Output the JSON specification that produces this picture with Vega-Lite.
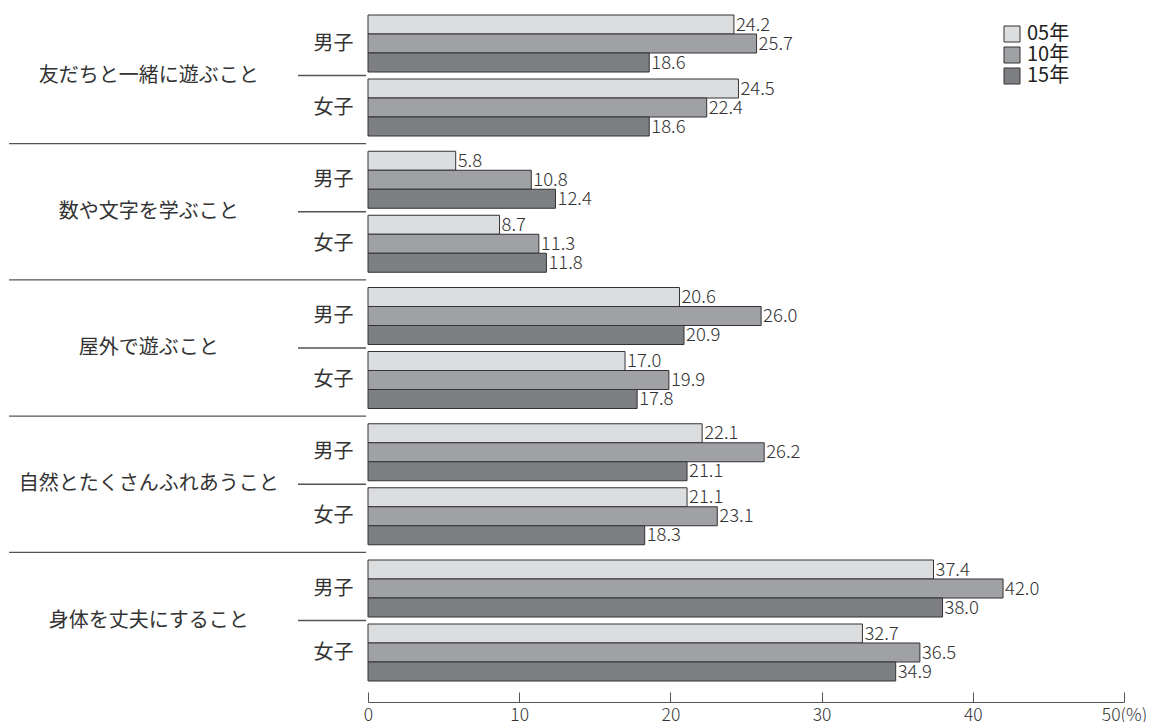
{
  "$schema": "https://vega.github.io/schema/vega-lite/v6.json",
  "padding": {"left": 8, "top": 14, "right": 0, "bottom": 0},
  "background": "white",
  "data": {
    "values": [
      {"cat": "友だちと一緒に遊ぶこと", "sex": "男子", "year": "05年", "value": 24.2},
      {"cat": "友だちと一緒に遊ぶこと", "sex": "男子", "year": "10年", "value": 25.7},
      {"cat": "友だちと一緒に遊ぶこと", "sex": "男子", "year": "15年", "value": 18.6},
      {"cat": "友だちと一緒に遊ぶこと", "sex": "女子", "year": "05年", "value": 24.5},
      {"cat": "友だちと一緒に遊ぶこと", "sex": "女子", "year": "10年", "value": 22.4},
      {"cat": "友だちと一緒に遊ぶこと", "sex": "女子", "year": "15年", "value": 18.6},
      {"cat": "数や文字を学ぶこと", "sex": "男子", "year": "05年", "value": 5.8},
      {"cat": "数や文字を学ぶこと", "sex": "男子", "year": "10年", "value": 10.8},
      {"cat": "数や文字を学ぶこと", "sex": "男子", "year": "15年", "value": 12.4},
      {"cat": "数や文字を学ぶこと", "sex": "女子", "year": "05年", "value": 8.7},
      {"cat": "数や文字を学ぶこと", "sex": "女子", "year": "10年", "value": 11.3},
      {"cat": "数や文字を学ぶこと", "sex": "女子", "year": "15年", "value": 11.8},
      {"cat": "屋外で遊ぶこと", "sex": "男子", "year": "05年", "value": 20.6},
      {"cat": "屋外で遊ぶこと", "sex": "男子", "year": "10年", "value": 26.0},
      {"cat": "屋外で遊ぶこと", "sex": "男子", "year": "15年", "value": 20.9},
      {"cat": "屋外で遊ぶこと", "sex": "女子", "year": "05年", "value": 17.0},
      {"cat": "屋外で遊ぶこと", "sex": "女子", "year": "10年", "value": 19.9},
      {"cat": "屋外で遊ぶこと", "sex": "女子", "year": "15年", "value": 17.8},
      {"cat": "自然とたくさんふれあうこと", "sex": "男子", "year": "05年", "value": 22.1},
      {"cat": "自然とたくさんふれあうこと", "sex": "男子", "year": "10年", "value": 26.2},
      {"cat": "自然とたくさんふれあうこと", "sex": "男子", "year": "15年", "value": 21.1},
      {"cat": "自然とたくさんふれあうこと", "sex": "女子", "year": "05年", "value": 21.1},
      {"cat": "自然とたくさんふれあうこと", "sex": "女子", "year": "10年", "value": 23.1},
      {"cat": "自然とたくさんふれあうこと", "sex": "女子", "year": "15年", "value": 18.3},
      {"cat": "身体を丈夫にすること", "sex": "男子", "year": "05年", "value": 37.4},
      {"cat": "身体を丈夫にすること", "sex": "男子", "year": "10年", "value": 42.0},
      {"cat": "身体を丈夫にすること", "sex": "男子", "year": "15年", "value": 38.0},
      {"cat": "身体を丈夫にすること", "sex": "女子", "year": "05年", "value": 32.7},
      {"cat": "身体を丈夫にすること", "sex": "女子", "year": "10年", "value": 36.5},
      {"cat": "身体を丈夫にすること", "sex": "女子", "year": "15年", "value": 34.9}
    ]
  },
  "facet": {
    "row": {
      "field": "cat",
      "type": "nominal",
      "sort": ["友だちと一緒に遊ぶこと", "数や文字を学ぶこと", "屋外で遊ぶこと", "自然とたくさんふれあうこと", "身体を丈夫にすること"],
      "header": {"labels": false, "title": null}
    }
  },
  "spacing": {"row": 15.25},
  "bounds": "flush",
  "spec": {
    "width": 756,
    "height": 121,
    "layer": [
      {
        "mark": {"type": "bar", "stroke": "#333333", "strokeWidth": 1},
        "encoding": {
          "y": {
            "field": "sex", "type": "nominal",
            "scale": {"domain": ["男子", "女子"], "paddingInner": 0.109375, "paddingOuter": 0},
            "axis": {"title": null}
          },
          "yOffset": {
            "field": "year", "type": "nominal",
            "scale": {"domain": ["05年", "10年", "15年"], "paddingInner": 0, "paddingOuter": 0}
          },
          "x": {
            "field": "value", "type": "quantitative",
            "scale": {"domain": [0, 50], "nice": false},
            "axis": {"title": null, "values": [0, 10, 20, 30, 40, 50]}
          },
          "color": {
            "field": "year", "type": "nominal",
            "scale": {"domain": ["05年", "10年", "15年"], "range": ["#dcdddf", "#a0a1a4", "#7e7f82"]},
            "legend": {
              "title": null, "orient": "none", "legendX": 634, "legendY": 9,
              "symbolType": "square", "symbolSize": 256, "symbolStrokeColor": "#333333", "symbolStrokeWidth": 1,
              "symbolOpacity": 1, "labelFontSize": 20, "labelFont": "Noto Sans CJK JP", "labelColor": "#222222",
              "labelOffset": 5, "rowPadding": 1
            }
          }
        }
      },
      {
        "mark": {"type": "text", "align": "left", "baseline": "middle", "dx": 2, "fontSize": 18.5, "fontWeight": 300, "font": "Noto Sans CJK JP", "color": "#333333"},
        "encoding": {
          "y": {"field": "sex", "type": "nominal", "axis": {"title": null}},
          "yOffset": {"field": "year", "type": "nominal"},
          "x": {"field": "value", "type": "quantitative", "axis": {"title": null, "values": [0, 10, 20, 30, 40, 50]}},
          "text": {"field": "value", "type": "quantitative", "format": ".1f"}
        }
      },
      {
        "transform": [{"filter": "datum.sex == '女子' && datum.year == '05年'"}],
        "mark": {"type": "rule", "color": "#555555", "strokeWidth": 1.3},
        "encoding": {
          "y": {"field": "sex", "type": "nominal", "bandPosition": -0.0614, "axis": {"title": null}},
          "x": {"datum": -4.63, "type": "quantitative"},
          "x2": {"datum": -0.13}
        }
      },
      {
        "transform": [{"filter": "datum.sex == '男子' && datum.year == '05年' && datum.cat != '友だちと一緒に遊ぶこと'"}],
        "mark": {"type": "rule", "color": "#555555", "strokeWidth": 1.3},
        "encoding": {
          "y": {"field": "sex", "type": "nominal", "bandPosition": -0.1338, "axis": {"title": null}},
          "x": {"datum": -23.74, "type": "quantitative"},
          "x2": {"datum": -0.13}
        }
      },
      {
        "transform": [{"filter": "datum.sex == '女子' && datum.year == '05年'"}],
        "mark": {"type": "text", "align": "center", "baseline": "middle", "fontSize": 20, "font": "Noto Sans CJK JP", "color": "#333333"},
        "encoding": {
          "y": {"field": "sex", "type": "nominal", "bandPosition": -0.0614, "axis": {"title": null}},
          "x": {"datum": -14.5, "type": "quantitative"},
          "text": {"field": "cat", "type": "nominal"}
        }
      }
    ]
  },
  "config": {
    "view": {"stroke": null},
    "font": "Noto Sans CJK JP",
    "axisY": {
      "title": null, "domain": false, "ticks": false, "grid": false,
      "labelPadding": 15, "labelFontSize": 20, "labelColor": "#333333", "labelFont": "Noto Sans CJK JP"
    },
    "axisX": {
      "title": null, "grid": false,
      "offset": 21, "tickSize": -10, "tickColor": "#555555", "domainColor": "#555555",
      "labelPadding": 14, "labelFontSize": 17.5, "labelFontWeight": 300, "labelColor": "#333333", "labelFont": "Noto Sans CJK JP",
      "labelExpr": "datum.value == 50 ? '50(%)' : datum.label", "labelFlush": false
    }
  }
}
